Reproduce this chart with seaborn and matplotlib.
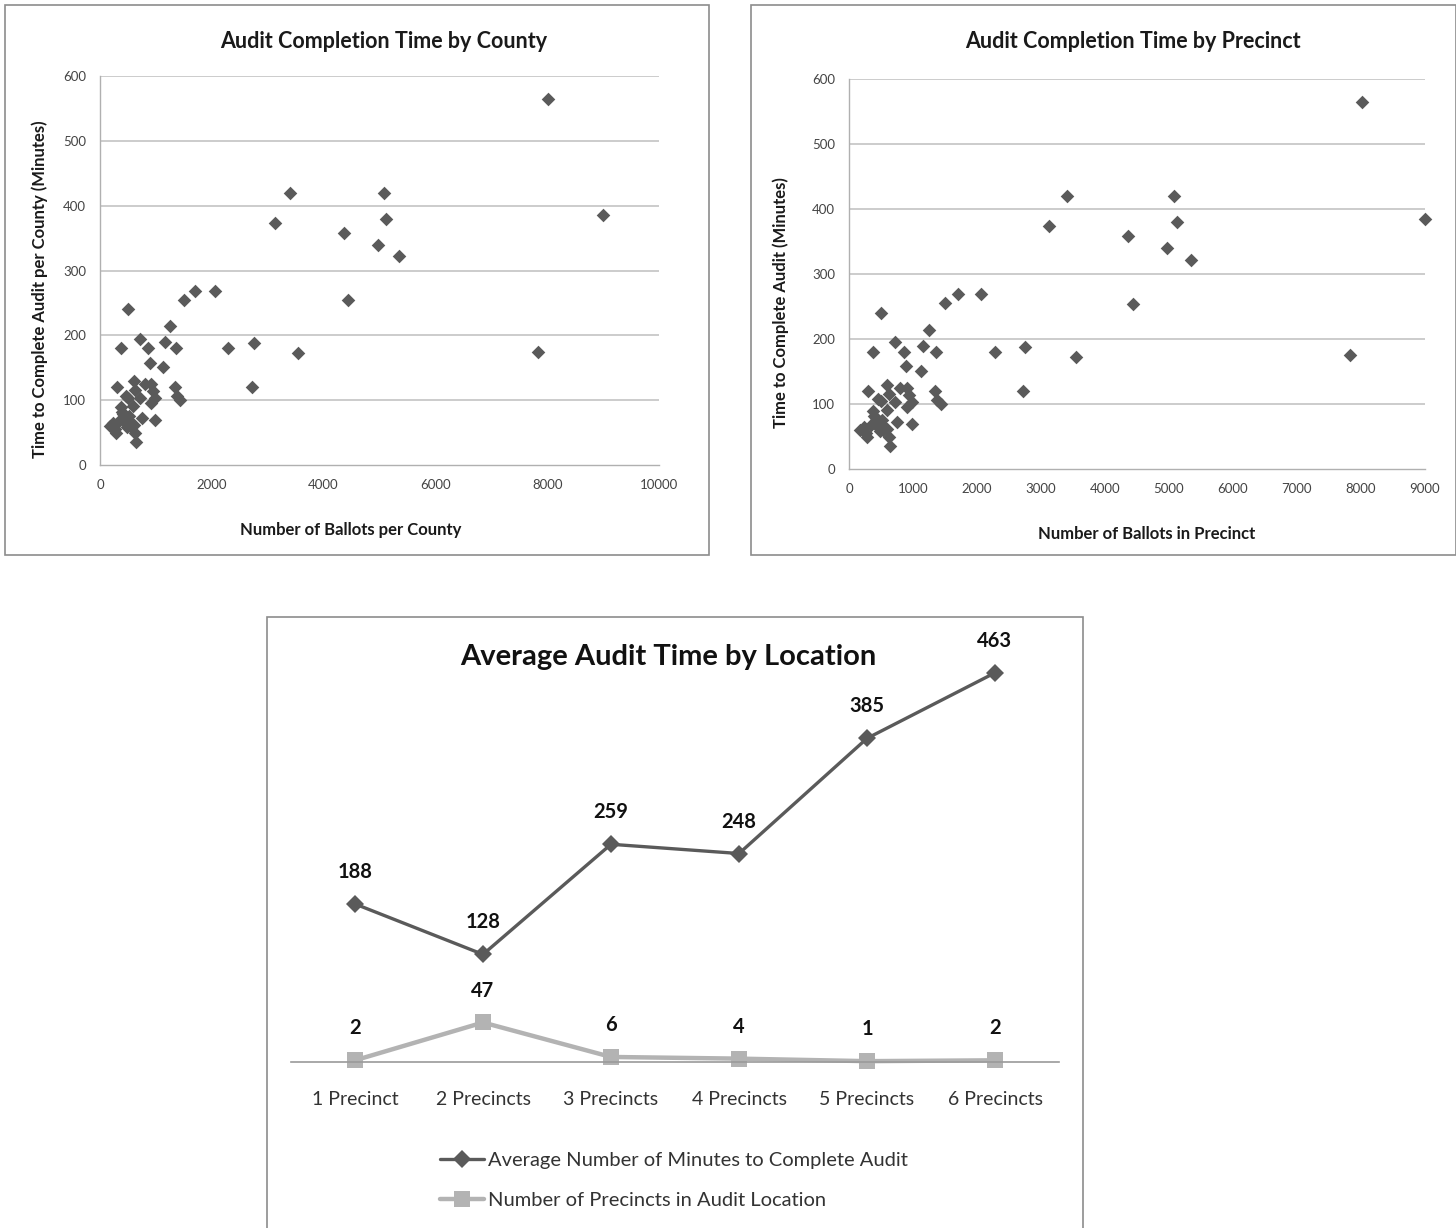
import matplotlib
matplotlib.use("Agg")
import matplotlib.pyplot as plt
import seaborn as sns
import pandas as pd
from matplotlib.patches import Rectangle

# ---------------- data ----------------
ballots = [171, 286, 300, 336, 371, 386, 407, 443, 457, 380, 500, 479, 514, 550, 500,
           600, 586, 600, 621, 621, 643, 714, 720, 743, 800, 860, 890, 907, 907, 943,
           979, 979, 1125, 1156, 1250, 1344, 1359, 1370, 1440, 1500, 1703, 2062, 2281,
           2719, 2750, 3125, 3406, 3547, 4360, 4437, 4969, 5078, 5125, 5344, 7828,
           8016, 9000, 230, 260, 420, 470, 530]
minutes = [60, 50, 120, 68, 90, 81, 73, 66, 107, 180, 104, 59, 76, 65, 240,
           129, 91, 62, 115, 50, 36, 103, 195, 73, 125, 180, 158, 125, 95, 114,
           103, 69, 151, 189, 214, 120, 180, 106, 100, 255, 269, 269, 180,
           120, 188, 374, 420, 172, 358, 254, 340, 420, 380, 322, 175,
           565, 385, 65, 55, 78, 70, 60]

locations = ["1 Precinct", "2 Precincts", "3 Precincts", "4 Precincts", "5 Precincts", "6 Precincts"]
avg_minutes = [188, 128, 259, 248, 385, 463]
n_precincts = [2, 47, 6, 4, 1, 2]

# ---------------- style ----------------
sns.set_style("white")
plt.rcParams["font.family"] = ["Lato", "DejaVu Sans"]

W, H = 1456, 1228
fig = plt.figure(figsize=(W / 100, H / 100), dpi=100)
fig.patch.set_facecolor("white")

def ax_px(l, t, r, b):
    return fig.add_axes([l / W, 1 - b / H, (r - l) / W, (b - t) / H])

def fx(x):
    return x / W

def fy(y):
    return 1 - y / H

frame_col = "#8c8c8c"
for (l, t, r, b) in [(5, 5, 709, 555), (751, 5, 1456, 555), (267, 617, 1083, 1240)]:
    fig.patches.append(Rectangle((fx(l), fy(b)), (r - l) / W, (b - t) / H,
                                 transform=fig.transFigure, fill=False,
                                 edgecolor=frame_col, linewidth=1.2))

df = pd.DataFrame({"ballots": ballots, "minutes": minutes})
pt_col = "#5a5a5a"
grid_col = "#c4c4c4"

def style_scatter(ax, xmax, xstep):
    ax.set_xlim(0, xmax)
    ax.set_ylim(0, 600)
    ax.set_xticks(range(0, xmax + 1, xstep))
    ax.set_yticks(range(0, 601, 100))
    for y in range(100, 601, 100):
        ax.axhline(y, color=grid_col, linewidth=1.2, zorder=0)
    for s in ["top", "right"]:
        ax.spines[s].set_visible(False)
    for s in ["left", "bottom"]:
        ax.spines[s].set_color("#b0b0b0")
        ax.spines[s].set_linewidth(1.0)
    ax.tick_params(axis="both", labelsize=9.5, colors="#444444", length=4, width=0.8,
                   direction="out", pad=6)
    ax.tick_params(axis="both", color="#b0b0b0")
    ax.set_xlabel("")
    ax.set_ylabel("")

# Scatter 1
ax1 = ax_px(100, 76, 659, 465)
sns.scatterplot(data=df, x="ballots", y="minutes", marker="D", s=48, color=pt_col,
                edgecolor=pt_col, linewidth=0, ax=ax1, clip_on=False, zorder=3)
style_scatter(ax1, 10000, 2000)
fig.text(fx(384), fy(41), "Audit Completion Time by County", ha="center", va="center",
         fontsize=15.5, fontweight="bold", color="#1a1a1a")
fig.text(fx(351), fy(530), "Number of Ballots per County", ha="center", va="center",
         fontsize=12, fontweight="bold", color="#1a1a1a")
fig.text(fx(40), fy(289), "Time to Complete Audit per County (Minutes)", ha="center",
         va="center", rotation=90, fontsize=12, fontweight="bold", color="#1a1a1a")

# Scatter 2
ax2 = ax_px(849, 79, 1425, 469)
sns.scatterplot(data=df, x="ballots", y="minutes", marker="D", s=48, color=pt_col,
                edgecolor=pt_col, linewidth=0, ax=ax2, clip_on=False, zorder=3)
style_scatter(ax2, 9000, 1000)
fig.text(fx(1133), fy(41), "Audit Completion Time by Precinct", ha="center", va="center",
         fontsize=15.5, fontweight="bold", color="#1a1a1a")
fig.text(fx(1147), fy(534), "Number of Ballots in Precinct", ha="center", va="center",
         fontsize=12, fontweight="bold", color="#1a1a1a")
fig.text(fx(781), fy(303), "Time to Complete Audit (Minutes)", ha="center",
         va="center", rotation=90, fontsize=12, fontweight="bold", color="#1a1a1a")

# Line chart
ax3 = ax_px(291, 640, 1059, 1062)
ldf = pd.DataFrame({"loc": list(range(len(locations))) * 2,
                    "value": avg_minutes + n_precincts,
                    "series": ["Average Number of Minutes to Complete Audit"] * len(locations)
                              + ["Number of Precincts in Audit Location"] * len(locations)})
dark = "#5a5a5a"
light = "#b3b3b3"
sns.lineplot(data=ldf, x="loc", y="value", hue="series", style="series",
             markers={"Average Number of Minutes to Complete Audit": "D",
                      "Number of Precincts in Audit Location": "s"},
             dashes=False,
             palette={"Average Number of Minutes to Complete Audit": dark,
                      "Number of Precincts in Audit Location": light},
             ax=ax3, linewidth=2.6, markeredgewidth=0, clip_on=False)
for line in ax3.lines:
    c = matplotlib.colors.to_hex(line.get_color())
    if c == dark:
        line.set_markersize(9)
        line.set_linewidth(2.4)
    else:
        line.set_markersize(12)
        line.set_linewidth(3.2)
ax3.set_xlim(-0.5, 5.5)
ax3.set_ylim(0, 502)
ax3.set_xticks(range(len(locations)))
ax3.set_xticklabels(locations)
ax3.set_yticks([])
for s in ["top", "right", "left"]:
    ax3.spines[s].set_visible(False)
ax3.spines["bottom"].set_color("#9a9a9a")
ax3.spines["bottom"].set_linewidth(1.2)
ax3.tick_params(axis="x", length=0, pad=21, labelsize=14, colors="#333333")
ax3.set_xlabel("")
ax3.set_ylabel("")
ax3.patch.set_alpha(0)

for i, v in enumerate(avg_minutes):
    ax3.annotate(str(v), (i, v), xytext=(0, 23), textcoords="offset points",
                 ha="center", va="center", fontsize=14.5, fontweight="bold", color="#111111")
for i, v in enumerate(n_precincts):
    ax3.annotate(str(v), (i, v), xytext=(0, 23), textcoords="offset points",
                 ha="center", va="center", fontsize=14.5, fontweight="bold", color="#111111")

fig.text(fx(668), fy(657), "Average Audit Time by Location", ha="center", va="center",
         fontsize=21, fontweight="bold", color="#111111")

handles, labels = ax3.get_legend_handles_labels()
if ax3.legend_:
    ax3.legend_.remove()
leg = fig.legend(handles, labels, loc="upper left",
                 bbox_to_anchor=(fx(432), fy(1144)), frameon=False, fontsize=14.5,
                 handlelength=2.2, handletextpad=0.2, labelspacing=1.15,
                 borderaxespad=0)
for t in leg.get_texts():
    t.set_color("#333333")

fig.savefig("out.png", dpi=100, facecolor="white")
